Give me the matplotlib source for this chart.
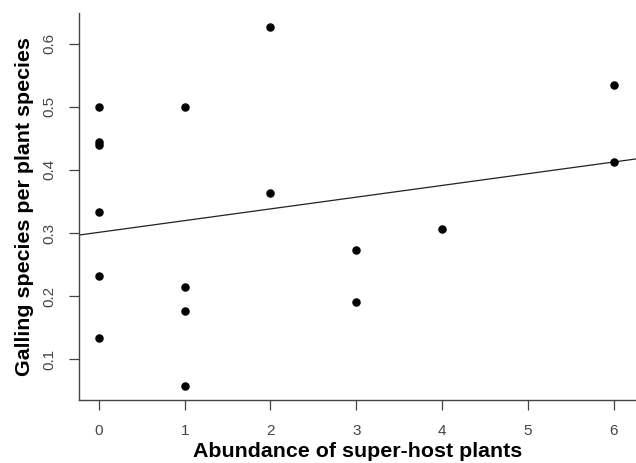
import matplotlib
matplotlib.use('Agg')
from matplotlib import pyplot as plt

# abundance of super-host plants and galling species per plant species
abundance = [0, 0, 0, 0, 0, 0, 1, 1, 1, 1, 2, 2, 3, 3, 4, 6, 6]
galling = [0.500, 0.445, 0.439, 0.333, 0.232, 0.134,
           0.500, 0.215, 0.176, 0.058,
           0.626, 0.364,
           0.273, 0.191,
           0.307,
           0.534, 0.412]

# fitted line as drawn in the figure
intercept = 0.301
slope = 0.0186

xticks = [0, 1, 2, 3, 4, 5, 6]
yticks = [0.1, 0.2, 0.3, 0.4, 0.5, 0.6]

plt.rcParams['font.family'] = ['Liberation Sans', 'DejaVu Sans']

fig = plt.figure(figsize=(6.36, 4.63), dpi=100)
ax = fig.add_axes([0.124, 0.136, 0.876, 0.836])

ax.scatter(abundance, galling, s=26, color='black', zorder=3)

xlo, xhi = -0.233, 6.26
ax.plot([xlo, xhi], [intercept + slope * xlo, intercept + slope * xhi],
        color='#222222', linewidth=0.9)

ax.set_xlim(xlo, xhi)
ax.set_ylim(0.035, 0.649)
ax.set_xticks(xticks)
ax.set_yticks(yticks)
ax.set_yticklabels([str(t) for t in yticks], rotation=90, va='center')

for side in ['top', 'right']:
    ax.spines[side].set_visible(False)
for side in ['left', 'bottom']:
    ax.spines[side].set_color('#444444')
    ax.spines[side].set_linewidth(1.0)

ax.tick_params(axis='both', direction='out', length=7, width=0.9,
               color='#444444', labelcolor='#444444', labelsize=11)
ax.tick_params(axis='x', pad=10)
ax.tick_params(axis='y', pad=9)

ax.set_xlabel('Abundance of super-host plants', fontsize=15.4,
              fontweight='bold', labelpad=3)
ax.set_ylabel('Galling species per plant species', fontsize=15.4,
              fontweight='bold', labelpad=6)

fig.savefig('out.png', dpi=100)
